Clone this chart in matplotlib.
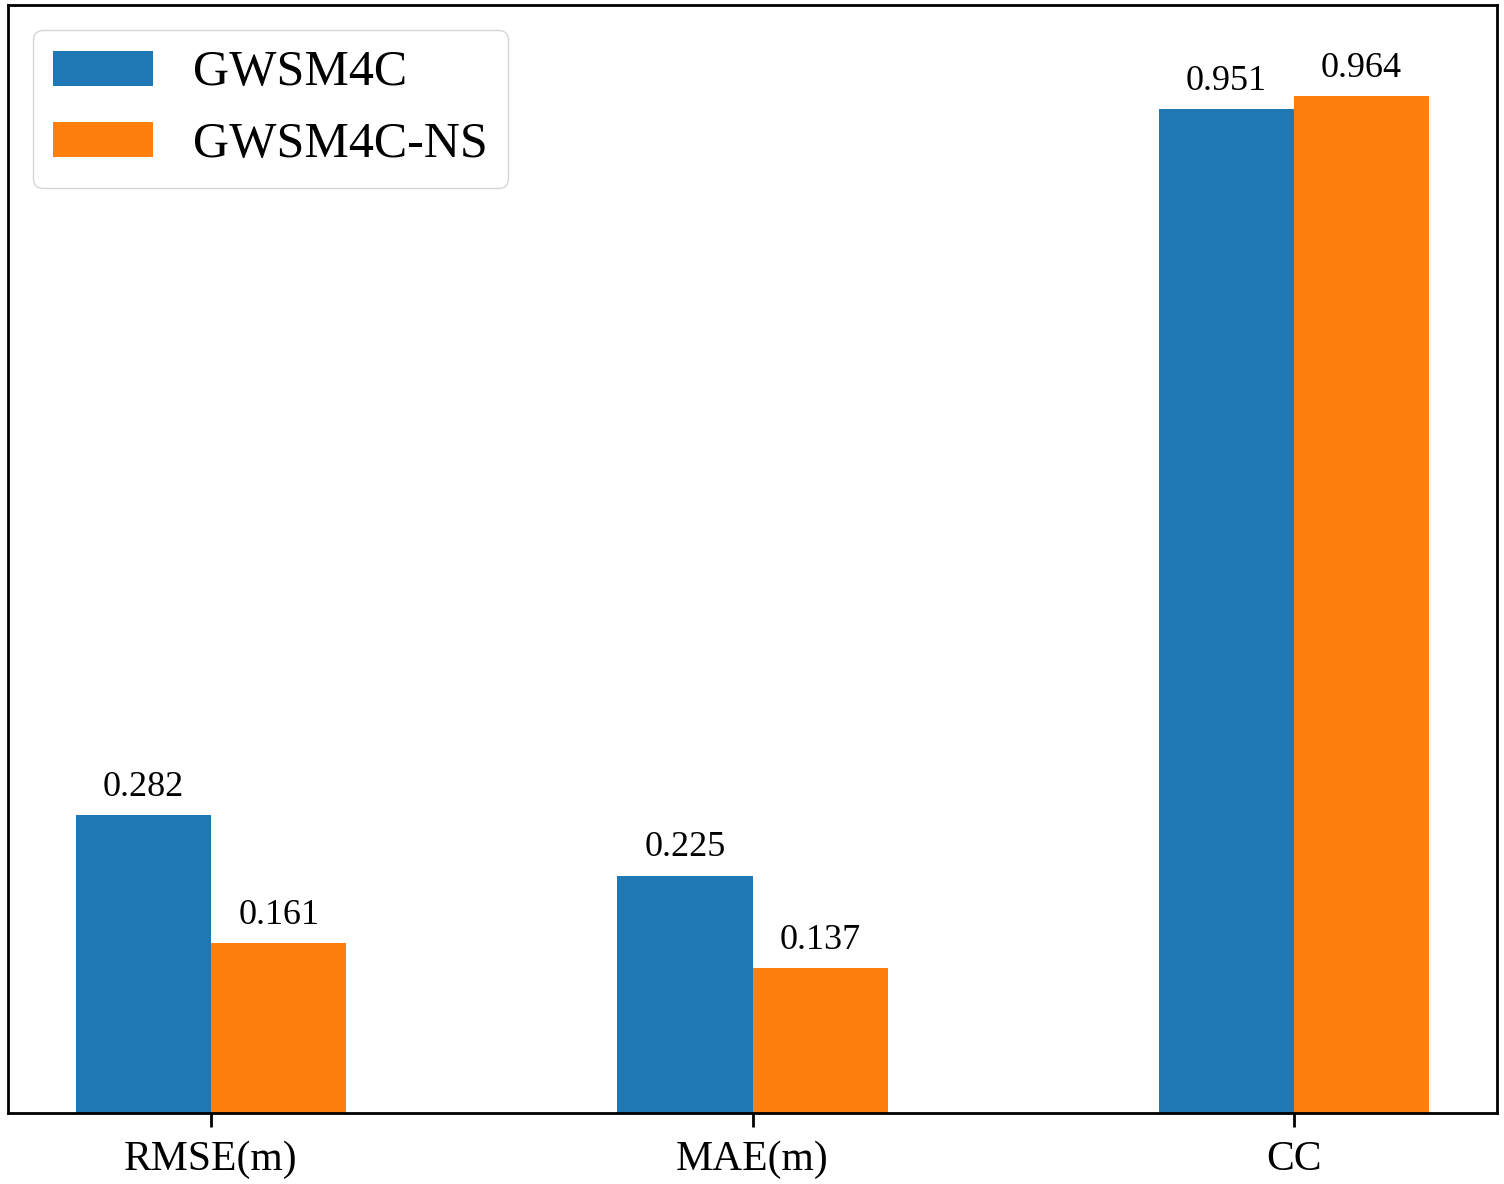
#Imports
import numpy as np
import matplotlib.pyplot as plt

#Data
Categories = ['RMSE(m)', 'MAE(m)', 'CC']
Series_Names = ['GWSM4C', 'GWSM4C-NS']
Values_GWSM4C = [0.282, 0.225, 0.951]
Values_GWSM4C_NS = [0.161, 0.137, 0.964]

plt.rcParams['font.family'] = ['Liberation Serif', 'DejaVu Serif']

#Plotting
fig = plt.figure(figsize=(15.04, 11.84), dpi=100)
ax = fig.add_axes([8/1504, 71/1184, 1489/1504, 1108/1184])

x = np.arange(len(Categories))
Width = 0.25
Bars_1 = ax.bar(x - Width/2, Values_GWSM4C, Width, color='#1f77b4', label=Series_Names[0])
Bars_2 = ax.bar(x + Width/2, Values_GWSM4C_NS, Width, color='#ff7f0e', label=Series_Names[1])

ax.bar_label(Bars_1, fmt='%.3f', padding=8, fontsize=26)
ax.bar_label(Bars_2, fmt='%.3f', padding=8, fontsize=26)

ax.set_ylim(0, 1.05)
ax.set_yticks([])
ax.set_xticks(x)
ax.set_xticklabels(Categories, fontsize=30)
ax.tick_params(axis='x', length=10, width=2, pad=10)
for s in ax.spines.values():
    s.set_linewidth(2)

ax.legend(loc='upper left', fontsize=36)

fig.savefig('out.png', dpi=100)
